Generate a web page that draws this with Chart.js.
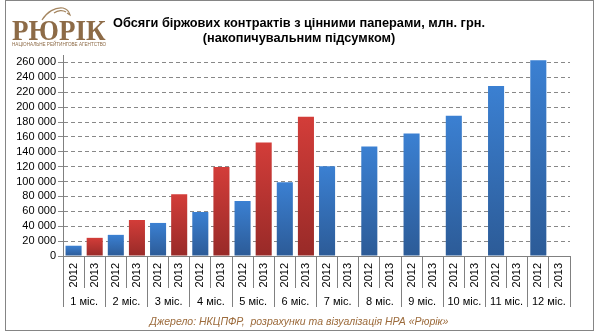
<!DOCTYPE html>
<html>
<head>
<meta charset="utf-8">
<script src="https://cdn.jsdelivr.net/npm/chart.js@4/dist/chart.umd.min.js"></script>
<style>
  html, body { margin: 0; padding: 0; background: #fff; }
  #wrap { position: relative; width: 598px; height: 332px; overflow: hidden; }
  #frame { position: absolute; left: 5px; top: 0; width: 587px; height: 329px; border: 1px solid #858585; }
  #logo { position: absolute; left: 12px; top: 15px; font: bold 30px/30px 'Liberation Serif', serif; color: #8d6b47;
          transform: scaleX(0.9); transform-origin: left top; white-space: nowrap; }
  #logo-sub { position: absolute; left: 12px; top: 42px; font: 5px/5px 'Liberation Sans', sans-serif; color: #8d6b47;
              white-space: nowrap; transform: scaleX(0.92); transform-origin: left top; }
  #eagle { position: absolute; left: 40px; top: 5px; }
  #title { position: absolute; left: 0; width: 598px; top: 15px; text-align: center;
           font: bold 12.75px/15px 'Liberation Sans', Arial, sans-serif; color: #000; }
  #source { position: absolute; left: 0; width: 598px; top: 315px; text-align: center; white-space: pre;
            font: italic 10.5px 'Liberation Sans', Arial, sans-serif; color: #9c6b3c; }
  canvas { position: absolute; left: 0; top: 0; }
</style>
</head>
<body>
<div id="wrap">
  <div id="frame"></div>
  <canvas id="chart" width="598" height="332"></canvas>
  <svg id="eagle" width="34" height="16" viewBox="0 0 34 16">
    <path d="M2 15 C7 7, 15 2, 23 3 C27 4, 29 6, 30 10 L27 8 M14 8 C18 5, 23 5, 26 7" fill="none" stroke="#a4855f" stroke-width="1.2"/>
  </svg>
  <div id="logo">РЮРІК</div>
  <div id="logo-sub">НАЦІОНАЛЬНЕ РЕЙТИНГОВЕ АГЕНТСТВО</div>
  <div id="title">Обсяги біржових контрактів з цінними паперами, млн. грн.<br>(накопичувальним підсумком)</div>
  <div id="source">Джерело: НКЦПФР,  розрахунки та візуалізація НРА «Рюрік»</div>
</div>
<script>
// дані
const months = ['1 міс.', '2 міс.', '3 міс.', '4 міс.', '5 міс.', '6 міс.', '7 міс.', '8 міс.', '9 міс.', '10 міс.', '11 міс.', '12 міс.'];
const years = ['2012', '2013'];
const vol2012 = [13800, 28400, 44400, 59100, 73800, 99100, 120400, 147100, 164400, 188400, 228400, 263100];
const vol2013 = [24400, 48400, 83100, 119600, 152400, 187100, null, null, null, null, null, null];
const yTicks = [0, 20000, 40000, 60000, 80000, 100000, 120000, 140000, 160000, 180000, 200000, 220000, 240000, 260000];

// 24 категорії: місяць x рік
const labels = [];
const data2012 = [];
const data2013 = [];
months.forEach((m, i) => {
    labels.push(years[0], years[1]);
    data2012.push(vol2012[i], null);
    data2013.push(null, vol2013[i]);
});

const FONT = "'Liberation Sans', Arial, sans-serif";

// градієнт на кожен стовпчик
function barGradient(top, bottom) {
    return function(ctx) {
        const chart = ctx.chart;
        const v = ctx.raw;
        if (!chart.chartArea || v == null) return bottom;
        const y = chart.scales.y;
        const g = chart.ctx.createLinearGradient(0, y.getPixelForValue(0), 0, y.getPixelForValue(v));
        g.addColorStop(0, bottom);
        g.addColorStop(1, top);
        return g;
    };
}

new Chart(document.getElementById('chart'), {
    type: 'bar',
    data: {
        labels: labels,
        datasets: [
            { label: '2012', data: data2012, backgroundColor: barGradient('#3b80d2', '#2c5b97') },
            { label: '2013', data: data2013, backgroundColor: barGradient('#d33d39', '#982a28') }
        ]
    },
    options: {
        responsive: false,
        animation: false,
        skipNull: true,
        barPercentage: 0.76,
        categoryPercentage: 1,
        layout: { padding: { left: 0, right: 28, top: 55, bottom: 25 } },
        plugins: {
            legend: { display: false },
            tooltip: { enabled: false }
        },
        scales: {
            x: {
                weight: 0,
                afterFit: s => { s.height = 32; },
                grid: { drawOnChartArea: false, offset: true, tickLength: 32, color: '#808080' },
                border: { color: '#808080' },
                ticks: { autoSkip: false, minRotation: 90, maxRotation: 90, padding: -25, color: '#000', font: { family: FONT, size: 11 } }
            },
            x2: {
                type: 'category',
                labels: months,
                position: 'bottom',
                weight: 1,
                offset: true,
                afterFit: s => { s.height = 19; },
                grid: { drawOnChartArea: false, offset: true, tickLength: 19, color: '#808080' },
                border: { display: false },
                ticks: { autoSkip: false, maxRotation: 0, padding: -12, color: '#000', font: { family: FONT, size: 11 } }
            },
            y: {
                min: 0,
                max: 270000,
                afterFit: s => { s.width = 63; },
                afterBuildTicks: s => { s.ticks = yTicks.map(v => ({ value: v })); },
                grid: { color: '#888', tickLength: 5 },
                border: { color: '#808080', dash: [4, 3] },
                ticks: {
                    autoSkip: false,
                    padding: 2,
                    color: '#000',
                    font: { family: FONT, size: 11 },
                    callback: v => v.toString().replace(/\B(?=(\d{3})+(?!\d))/g, ' ')
                }
            }
        }
    }
});
</script>
</body>
</html>
